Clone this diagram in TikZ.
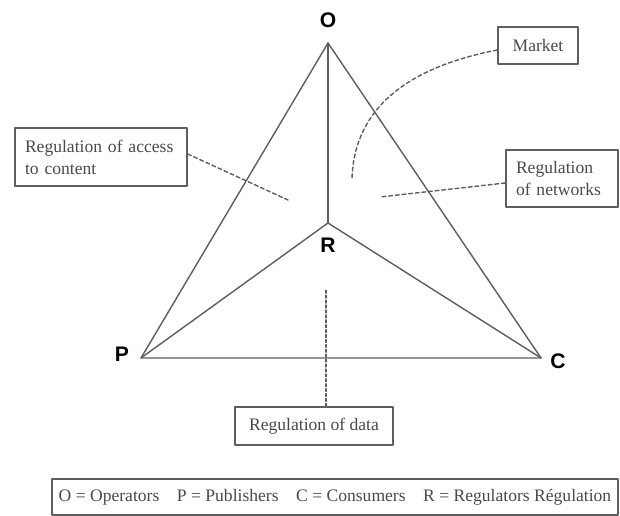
\documentclass[tikz,border=0pt]{standalone}
\usepackage{fontspec}
\setmainfont{Liberation Serif}
\newfontfamily\vertexfont{Liberation Sans}
\usepackage{tikz}
\usetikzlibrary{arrows.meta,positioning}
\definecolor{ink}{HTML}{4A4A4A}
\definecolor{edgegray}{HTML}{5E5E5E}
\tikzset{
  every picture/.style={
    font=\small,
    line join=round,
    line cap=round,
  },
  vlabel/.style={font=\vertexfont\bfseries\fontsize{12}{14}\selectfont, text=black},
  side/.style={draw=edgegray, line width=0.8pt},
  labelbox/.style={draw=edgegray, line width=0.8pt, fill=white, text=ink,
    font=\fontsize{10}{12.5}\selectfont, inner sep=0pt},
  leader/.style={draw=edgegray, line width=0.8pt, dash pattern=on 2.2pt off 1.6pt},
  dotleader/.style={draw=edgegray, line width=0.8pt, dash pattern=on 1.6pt off 1.2pt},
}

\begin{document}
\begin{tikzpicture}[x=0.02cm,y=-0.02cm]
\useasboundingbox (0,0) rectangle (620,516);
% corners of the triangle and the inner point
\coordinate (O) at (328,43);
\coordinate (R) at (328,223);
\coordinate (P) at (141,358);
\coordinate (C) at (541,358);
\node[vlabel] (o) at (328,20) {O};
\node[vlabel] (r) at (328,245) {R};
\node[vlabel] (p) at (122,354) {P};
\node[vlabel] (c) at (558,361) {C};
\draw[side] (O) -- (P) -- (C) -- cycle;
\draw[side] (O) -- (R);
\draw[side] (R) -- (P);
\draw[side] (R) -- (C);
% labelled areas
\node[labelbox, minimum width=1.6cm, minimum height=0.74cm] (market) at (538,45.5) {Market};
\node[labelbox, minimum width=2.24cm, minimum height=1.14cm, text width=1.84cm, align=left] (networks) at (562,178.5) {Regulation\\of networks};
\node[labelbox, minimum width=3.44cm, minimum height=1.16cm, text width=3.04cm, align=left] (access) at (101,157) {Regulation of access\\to content};
\node[labelbox, minimum width=3.16cm, minimum height=0.76cm] (data) at (314,426) {Regulation of data};
\node[labelbox, minimum width=11.32cm, minimum height=0.72cm] (legend) at (335,497)
  {O = Operators\quad P = Publishers\quad C = Consumers\quad R = Regulators R\'egulation};
% leader lines into the areas
\coordinate (inmarket) at (352,178);
\coordinate (innetworks) at (380,197);
\coordinate (inaccess) at (288,200);
\coordinate (indata) at (326,290);
\draw[leader] ([yshift=-0.09cm]market.west) .. controls (420,65) and (355,100) .. (inmarket);
\draw[leader] ([yshift=-0.09cm]networks.west) -- (innetworks);
\draw[leader] ([yshift=0.06cm]access.east) -- (inaccess);
\draw[dotleader] (data.north -| indata) -- (indata);
\end{tikzpicture}
\end{document}
